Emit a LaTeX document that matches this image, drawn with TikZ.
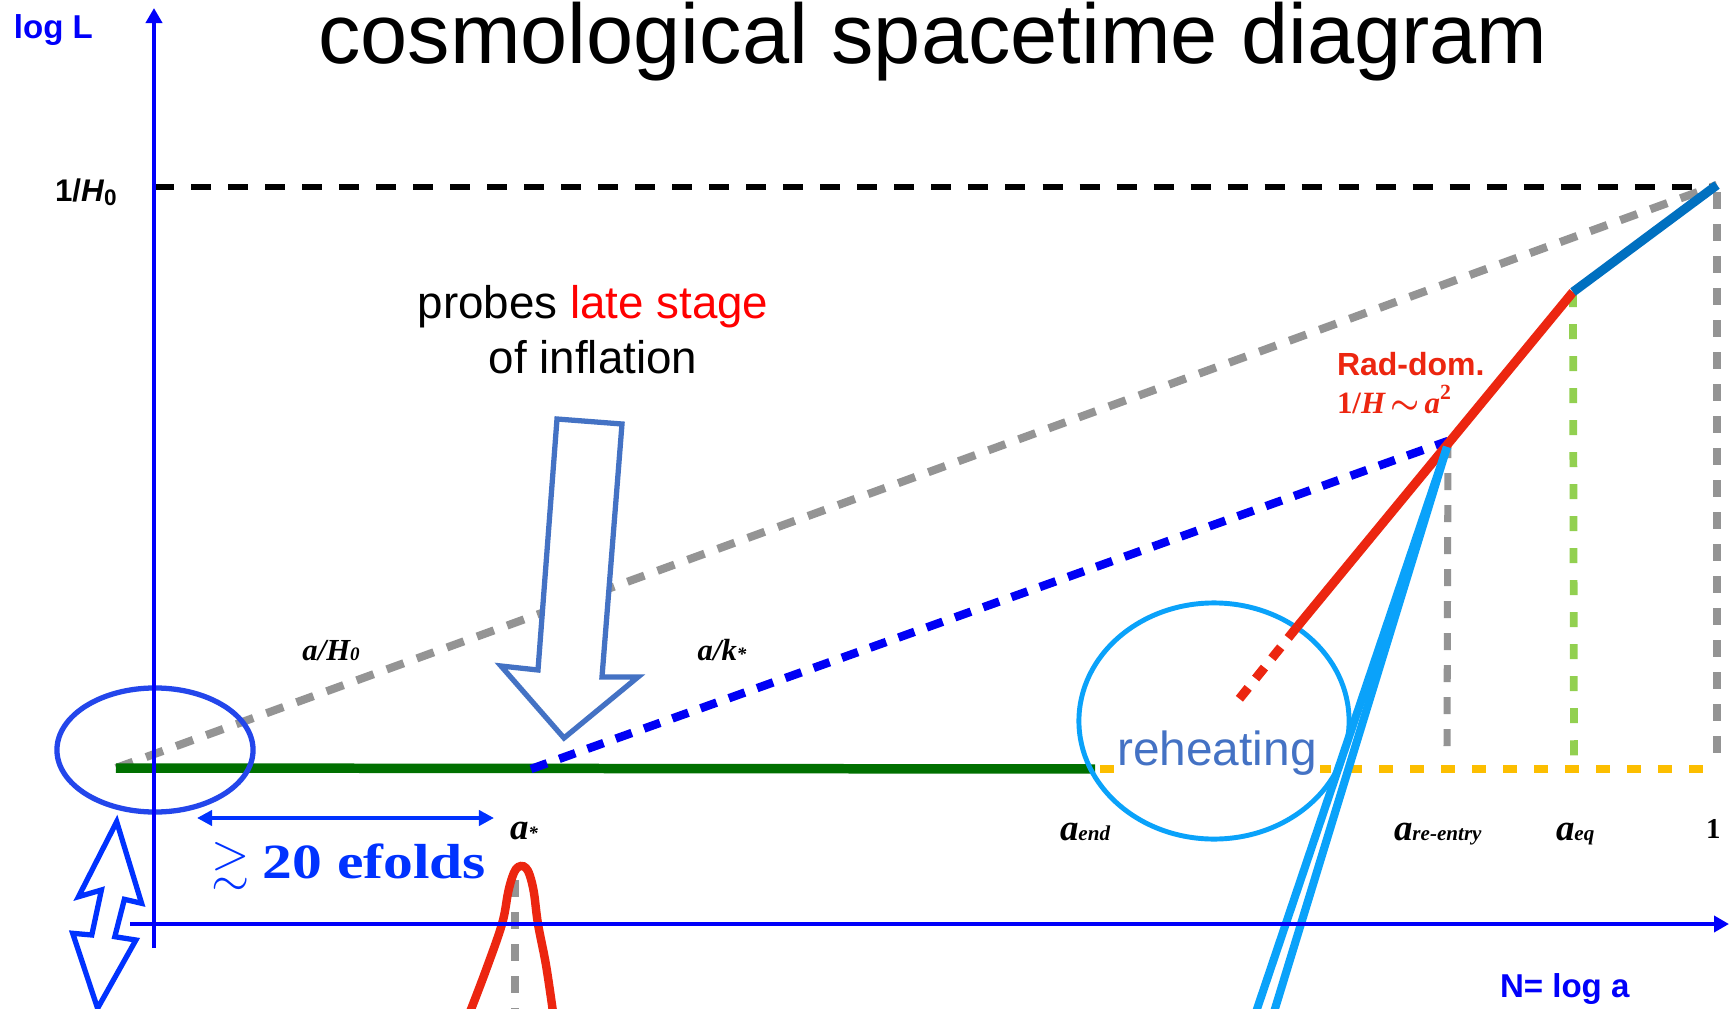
\documentclass[tikz,border=0pt]{standalone}
\usepackage{graphicx}
\usepackage{amsmath}
\usepackage{amssymb}
\usepackage{fontspec}
\setmainfont{Liberation Serif}
\setsansfont{Liberation Sans}
\usetikzlibrary{arrows.meta}
\definecolor{axblue}{RGB}{0,0,250}
\definecolor{efblue}{RGB}{0,50,255}
\definecolor{ellblue}{RGB}{35,70,235}
\definecolor{grayline}{RGB}{148,148,148}
\definecolor{dgreen}{RGB}{0,112,0}
\definecolor{kblue}{RGB}{0,0,245}
\definecolor{radred}{RGB}{236,38,16}
\definecolor{lgreen}{RGB}{146,208,80}
\definecolor{yell}{RGB}{252,190,0}
\definecolor{mdblue}{RGB}{0,112,192}
\definecolor{lblue}{RGB}{10,162,250}
\definecolor{arrblue}{RGB}{68,114,196}
\newcommand\subl[1]{{\fontsize{6}{7}\selectfont #1}}
\newcommand\subs[1]{{\fontsize{5.4}{6}\selectfont #1}}
\begin{document}
\begin{tikzpicture}[x=0.01cm,y=-0.01cm,
  every node/.style={inner sep=0pt,outer sep=0pt},
  axisline/.style={draw=axblue,line width=1.4pt,-{Triangle[length=0.15cm,width=0.16cm]}},
  blackdash/.style={draw=black,line width=1.7pt,dash pattern=on 0.2cm off 0.17cm},
  graydash/.style={draw=grayline,line width=2.3pt,dash pattern=on 0.18cm off 0.14cm},
  bluedash/.style={draw=kblue,line width=2.4pt,dash pattern=on 0.17cm off 0.13cm},
  vgray/.style={draw=grayline,line width=2pt,dash pattern=on 0.17cm off 0.15cm},
  vgreen/.style={draw=lgreen,line width=2.2pt,dash pattern=on 0.15cm off 0.17cm},
  ydash/.style={draw=yell,line width=2pt,dash pattern=on 0.14cm off 0.17cm},
  chalk/.style={line width=2.6pt},
  sflab/.style={font={\sffamily\bfseries\fontsize{9.4}{11}\selectfont}},
  itlab/.style={font={\rmfamily\bfseries\itshape\fontsize{8.7}{10}\selectfont}},
  alab/.style={font={\rmfamily\bfseries\itshape\fontsize{10.5}{12}\selectfont}}]
\useasboundingbox (0,0) rectangle (1729,1009);
\clip (0,0) rectangle (1729,1009);
\fill[white] (0,0) rectangle (1729,1009);

% key coordinates
\coordinate (O) at (154,924);
\coordinate (ytop) at (154,8);
\coordinate (ybot) at (154,948);
\coordinate (xleft) at (130,924);
\coordinate (xright) at (1729,924);
\coordinate (h0a) at (154,187);
\coordinate (h0b) at (1712,187);
\coordinate (start) at (116,768);
\coordinate (astar) at (531,769);
\coordinate (aend) at (1095,769);
\coordinate (ys) at (1100,769);
\coordinate (ye) at (1717,769);
\coordinate (reentry) at (1448,441);
\coordinate (reentryB) at (1447,748);
\coordinate (eq) at (1573,292);
\coordinate (eqB) at (1574,758);
\coordinate (today) at (1717,185);
\coordinate (todayT) at (1717,192);
\coordinate (todayB) at (1717,768);
\coordinate (rmid) at (1297,627);
\coordinate (rend) at (1232,708);
\coordinate (lbtop) at (1447,447);
\coordinate (lb1) at (1256,1012);
\coordinate (lb2) at (1274,1012);
\coordinate (gtop) at (515,880);
\coordinate (gbot) at (515,1012);

% title and axis labels
\node[font={\sffamily\fontsize{24.1}{26}\selectfont},anchor=base] (title) at (933,64) {cosmological spacetime diagram};
\node[sflab,text=axblue,anchor=base west] (logL) at (14,38) {log L};
\node[font={\sffamily\bfseries\fontsize{8.9}{10}\selectfont},anchor=base west] (hlab) at (55,202) {1/\textit{H}\raisebox{-0.12em}{\fontsize{6.4}{7}\selectfont 0}};
\node[sflab,text=axblue,anchor=base west] (Nlab) at (1500,997) {N= log a};

% dashed reference lines
\draw[blackdash] (h0a) -- (h0b);
\draw[graydash] (start) -- (today);
\draw[vgray] (todayT) -- (todayB);
\draw[vgreen] (eq) -- (eqB);

% inflation plateau
\draw[draw=dgreen,line width=2.7pt] (start) -- (aend);
\draw[bluedash] (astar) -- (reentry);

% left ellipse
\draw[draw=ellblue,line width=1.5pt] (155,750) ellipse [x radius=0.98cm,y radius=0.62cm];

% reheating circle and late lines
\draw[draw=lblue,line width=1.4pt] (1214,721) ellipse [x radius=1.35cm,y radius=1.18cm];
\draw[ydash] (ys) -- (ye);
\node[font={\sffamily\fontsize{13.6}{15}\selectfont},text=arrblue,fill=white,inner xsep=1pt,inner ysep=1.5pt,anchor=base] (reh) at (1217,765) {reheating};
\draw[vgray] (reentry) -- (reentryB);
\draw[chalk,draw=radred] (eq) -- (rmid);
\draw[chalk,draw=radred,dash pattern=on 0.14cm off 0.12cm] (rmid) -- (rend);
\draw[chalk,draw=mdblue] (eq) -- (today);
\draw[draw=lblue,line width=2.3pt] (lbtop) -- (lb1);
\draw[draw=lblue,line width=2.3pt] (lbtop) -- (lb2);

% hollow arrow
\draw[draw=arrblue,line width=1.5pt,fill=white,line join=miter]
  (557,419) -- (622,424) -- (602,677) -- (638,677) -- (564,738) -- (501,666) -- (538,670) -- cycle;
\node[font={\sffamily\fontsize{13}{15}\selectfont},anchor=base] (probes) at (593,318) {probes \textcolor{red}{late stage}};
\node[font={\sffamily\fontsize{13}{15}\selectfont},anchor=base] (ofinf) at (593,373) {of inflation};

% labels on lines
\node[itlab,anchor=base] (aH0) at (331,660) {a/H\subs{0}};
\node[itlab,anchor=base] (ak) at (722,660) {a/k\subs{*}};
\node[font={\sffamily\bfseries\fontsize{9.1}{10}\selectfont},text=radred,anchor=base west] (rad) at (1337,375) {Rad-dom.};
\node[font={\rmfamily\bfseries\itshape\fontsize{8.8}{10}\selectfont},text=radred,anchor=base west] (radlaw) at (1337,413) {\upshape 1/\itshape H\,$\boldsymbol{\sim}$\,a\textsuperscript{\upshape 2}};

% scale-factor labels
\node[alab,anchor=base west] (la) at (510,839) {a\subs{*}};
\node[alab,anchor=base west] (lend) at (1060,840) {a\subl{end}};
\node[alab,anchor=base west] (lre) at (1394,840) {a\subl{re-entry}};
\node[alab,anchor=base west] (leq) at (1556,840) {a\subl{eq}};
\node[font={\rmfamily\bfseries\fontsize{8.2}{9}\selectfont},anchor=base west] (lone) at (1706,838) {1};

% efolds
\coordinate (efL) at (197,818);
\coordinate (efR) at (494,818);
\draw[draw=efblue,line width=1.2pt,{Triangle[length=0.15cm,width=0.15cm]}-{Triangle[length=0.15cm,width=0.15cm]}] (efL) -- (efR);
\node[text=efblue,anchor=base west] (ef) at (212,878) {\fontsize{14}{16}\selectfont$\gtrsim$\ \scalebox{1.21}[1]{\bfseries 20 efolds}};

% gaussian at a*
\draw[vgray] (gtop) -- (gbot);
\draw[draw=radred,line width=2.4pt] plot[smooth,tension=0.6] coordinates {(470,1012) (486,970) (502,924) (508,893) (512,878) (516,869) (521,866) (526,868) (530,876) (534,893) (538,924) (546,965) (553,1012)};

% double arrow with zigzag
\draw[draw=efblue,line width=1.5pt,fill=white,line join=miter]
  (116.7,821.7) -- (141.6,903.3) -- (124.4,899.3) -- (114.8,936.7) -- (135.9,940) -- (97.6,1008.3) -- (72.7,933.3) -- (91.8,935) -- (101.4,890) -- (78.5,896.7) -- cycle;

% axes
\draw[axisline] (ybot) -- (ytop);
\draw[axisline] (xleft) -- (xright);
\end{tikzpicture}
\end{document}
